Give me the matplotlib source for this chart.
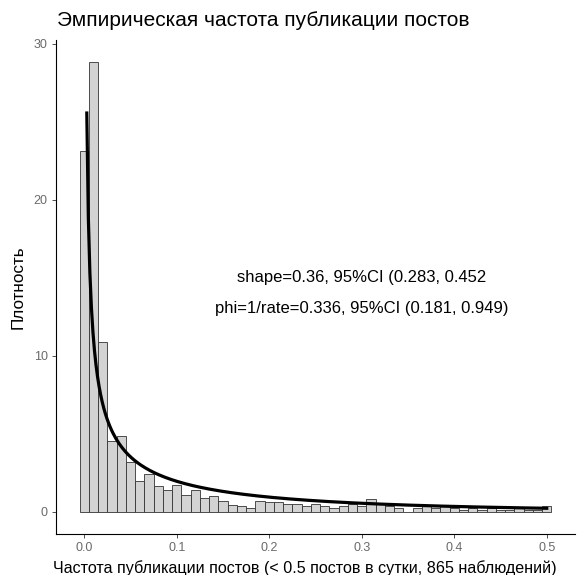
import math
import numpy as np
import matplotlib
matplotlib.use("Agg")
import matplotlib.pyplot as plt

plt.rcParams["font.family"] = ["Liberation Sans", "DejaVu Sans"]

# центры корзин гистограммы (ширина 0.01) и плотность
bin_centers = [round(0.01 * i, 2) for i in range(51)]
density = [23.1, 28.8, 10.9, 4.5, 4.87, 3.2, 1.95, 2.43, 1.62, 1.35,
           1.69, 1.05, 1.35, 0.88, 0.98, 0.66, 0.45, 0.34, 0.23, 0.66,
           0.62, 0.6, 0.5, 0.46, 0.35, 0.46, 0.35, 0.23, 0.35, 0.46,
           0.35, 0.81, 0.46, 0.35, 0.23, 0.0, 0.23, 0.35, 0.23, 0.35,
           0.23, 0.12, 0.23, 0.12, 0.23, 0.12, 0.12, 0.23, 0.12, 0.12,
           0.35]
bin_width = 0.01

# параметры подогнанного гамма-распределения (из подписи)
shape = 0.36
phi = 0.336
x_from, x_to = 0.0028, 0.5

title = "Эмпирическая частота публикации постов"
xlab = "Частота публикации постов (< 0.5 постов в сутки, 865 наблюдений)"
ylab = "Плотность"
note1 = "shape=0.36, 95%CI (0.283, 0.452"
note2 = "phi=1/rate=0.336, 95%CI (0.181, 0.949)"

fig = plt.figure(figsize=(5.79, 5.75), dpi=100)
ax = fig.add_axes([0.0967, 0.0713, 0.8963, 0.8591])

ax.bar(bin_centers, density, width=bin_width, color="#d3d3d3",
       edgecolor="#333333", linewidth=0.6)

xs = np.linspace(x_from, x_to, 300)
pdf = xs ** (shape - 1) * np.exp(-xs / phi) / (math.gamma(shape) * phi ** shape)
ax.plot(xs, pdf, color="black", linewidth=2.3)

ax.text(0.3, 15, note1, ha="center", va="center", fontsize=12)
ax.text(0.3, 13, note2, ha="center", va="center", fontsize=12)

ax.set_xlim(-0.0305, 0.5305)
ax.set_ylim(-1.44, 30.24)
ax.set_xticks([0.0, 0.1, 0.2, 0.3, 0.4, 0.5])
ax.set_xticklabels(["0.0", "0.1", "0.2", "0.3", "0.4", "0.5"])
ax.set_yticks([0, 10, 20, 30])

for s in ["top", "right"]:
    ax.spines[s].set_visible(False)
for s in ["left", "bottom"]:
    ax.spines[s].set_linewidth(0.8)
    ax.spines[s].set_color("black")
ax.tick_params(length=3, width=0.6, color="#333333", labelsize=9,
               labelcolor="#6a6a6a", pad=3)

ax.set_xlabel(xlab, fontsize=11.6)
ax.xaxis.set_label_coords(0.48, -0.052, transform=ax.transAxes)
ax.xaxis.label.set_va("top")
ax.set_ylabel(ylab, fontsize=12.3, labelpad=6)
fig.text(0.0985, 0.965, title, fontsize=15, ha="left", va="center")

fig.savefig("out.png", dpi=100)
